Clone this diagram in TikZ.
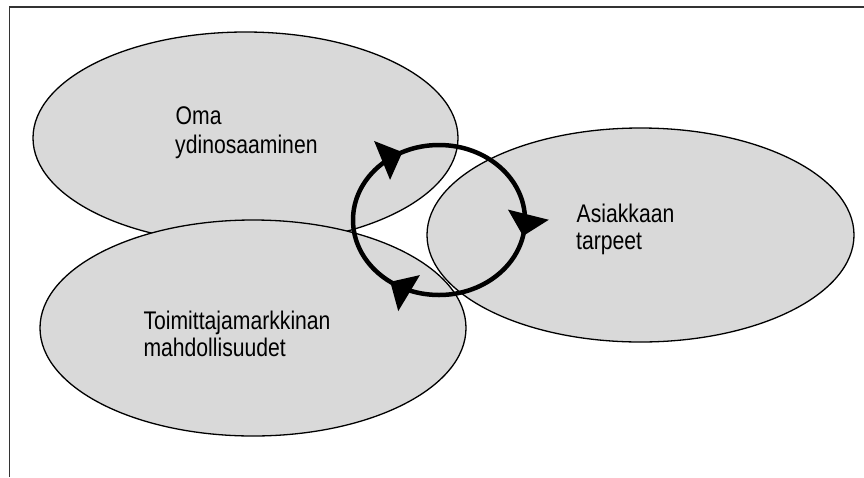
\documentclass[tikz,border=0pt]{standalone}
\usepackage{fontspec}
\setmainfont{Liberation Sans}
\newfontfamily\narrowsans[FakeStretch=0.83]{Liberation Sans}
\usetikzlibrary{arrows.meta,decorations.markings}
\tikzset{cycletip/.tip={Triangle[length=22pt,width=41pt]}}
\begin{document}
\begin{tikzpicture}[x=1pt,y=-1pt,
  blob/.style={fill=black!15},
  blobline/.style={draw=black,line width=1.3pt},
  label/.style={anchor=base west,inner sep=0pt,font=\narrowsans\fontsize{25.5pt}{29pt}\selectfont},
  cycle/.style={line width=4.5pt,
    postaction={decorate,decoration={markings,
      mark=at position 0.176 with {\arrow{cycletip}},
      mark=at position 0.532 with {\arrow{cycletip}},
      mark=at position 0.851 with {\arrow{cycletip}}}}}]
  \useasboundingbox (0,0) rectangle (864,477);
  % open frame: left and top edges only
  \draw[line width=1.6pt,black!80] (9.5,477) -- (9.5,7) -- (864,7);
  % the three areas
  \path[blob,blobline] (245.5,138) ellipse [x radius=212.5,y radius=106];
  \path[blob] (253,328) ellipse [x radius=213,y radius=108];
  \path[blob] (640.5,235) ellipse [x radius=213.5,y radius=107];
  \path[blobline] (253,328) ellipse [x radius=213,y radius=108];
  \path[blobline] (640.5,235) ellipse [x radius=213.5,y radius=107];
  % texts
  \node[label] (oma) at (175.5,124.3) {Oma};
  \node[label] (ydin) at (175,153.3) {ydinosaaminen};
  \node[label] (asi) at (576.5,222.3) {Asiakkaan};
  \node[label] (tar) at (576,249.5) {tarpeet};
  \node[label] (toi) at (143.3,329.3) {Toimittajamarkkinan};
  \node[label] (mah) at (143.3,356.7) {mahdollisuudet};
  % clockwise cycle between the areas
  \coordinate (c) at (439,220);
  \draw[cycle] (c) ++(-180:86 and 75) arc [start angle=-180,end angle=180,x radius=86,y radius=75];
\end{tikzpicture}
\end{document}
